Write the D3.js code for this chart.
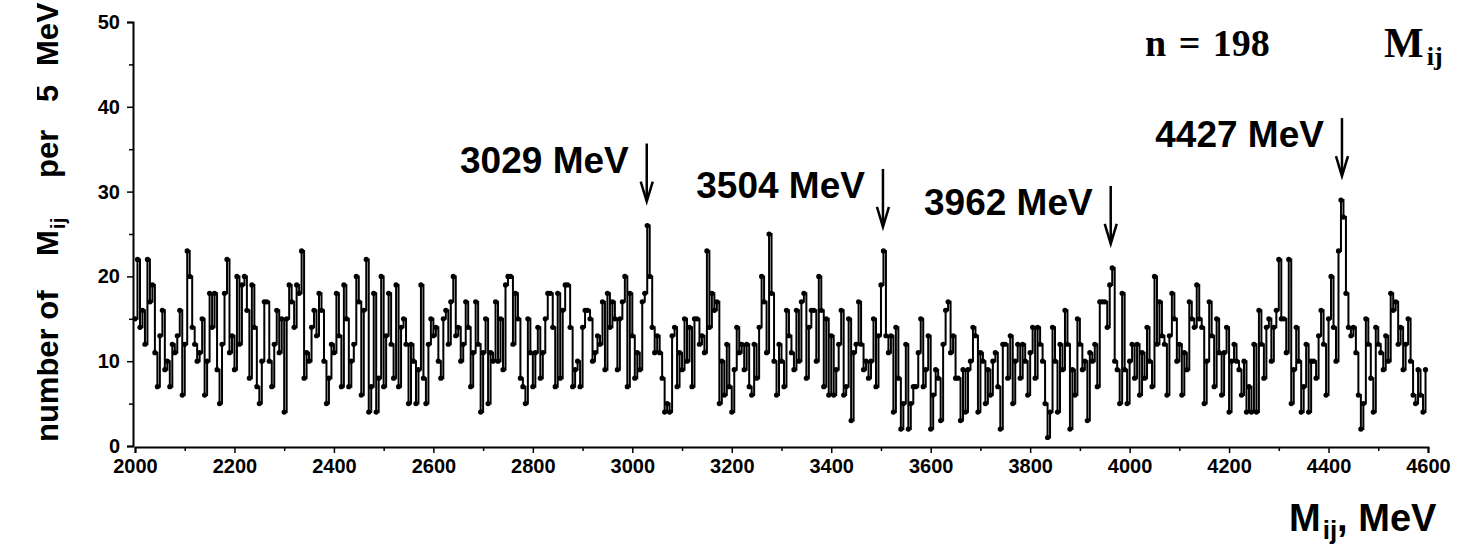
<!DOCTYPE html>
<html>
<head>
<meta charset="utf-8">
<script src="https://cdn.jsdelivr.net/npm/d3@7"></script>
<style>
  html, body { margin: 0; padding: 0; background: #fff; }
  svg { display: block; }
</style>
</head>
<body>
<svg id="chart" width="1458" height="549"></svg>
<script>
// ---------------- DATA ----------------
const massStart = 2000;   // MeV, first bin
const binWidth = 5;       // MeV per bin
const countsA = [15,22,14,16,12,22,17,19,11,7,13,16,9,10,7,12,11,13,16,6,12,23,20,14,12,10,11,15,6,10,18,14,18,9,5,12,18,22,11,13,9,20,12,19];
const countsB = [20,16,8,19,14,7,5,10,17,17,10,7,12,16,11,15,4,15,19,17,14,19,18,23,8,11,10,14,16,13,18,16,10,5,8,12,11,18,13,7,19,15,7,10,12];
const countsC = [20,17,6,16,22,4,7,18,4,8,20,7,13,18,12,8,19,7,14,15,12,5,12,10,5,9,19,8,5,12,15,13,14,10,8,15,16,12,17,20,13,14,10,12,17];
const countsD = [14,7,11,17,12,4,11,15,5,11,10,17,10,15,9,19,20,20,12,18,15,8,7,5,15,11,7,11,14,8,11,15,18,18,14,7,18,8,16,19,19,14,7,9,10];
const countsE = [7,14,16,16,15,10,11,13,12,17,9,18,14,17,15,9,15,17,20,7,18,13,8,11,9,17,18,26,20,14,11,13,11,8,4,5,4,13,14,7,11,9,15,10,14];
const countsF = [7,15,15,12,13,11,23,14,18,16,17,5,10,6,12,7,4,9,14,11,12,9,12,7,6,12,8,14,20,17,11,25,18,10,6,12,10,7,16,13,11,9,16,10,17];
const countsG = [18,8,14,16,16,10,20,16,7,15,6,13,6,9,12,16,6,7,15,3,11,12,17,12,9,10,8,10,15,7,13,19,23,13,11,13,4,14,8,2,5,12,2,5,7];
const countsH = [7,11,15,7,9,13,2,6,9,8,3,12,16,17,11,13,8,8,3,9,4,9,10,14,13,4,11,10,5,9,6,10,11,7,2,12,12,8,13,5,10,12,8,12,10];
const countsI = [6,11,14,8,14,12,10,5,1,4,14,10,4,12,9,16,12,2,9,6,15,12,9,10,3,11,10,12,7,17,17,17,14,19,21,10,9,5,18,9,5,10,12,8,12];
const countsJ = [6,11,8,14,10,7,20,12,17,13,12,6,13,18,15,10,12,6,11,9,17,15,14,19,15,14,5,10,17,13,7,15,11,6,11,14,4,10,12,10,9,6,10,4,7];
const countsK = [4,12,4,16,12,8,14,15,10,14,16,22,15,15,11,22,5,9,14,10,4,7,12,4,10,10,8,13,16,12,6,15,20,14,10,23,29,27,18,14,13,14,11,6,2];
const countsL = [5,15,12,8,4,14,12,11,9,13,10,18,16,17,12,14,9,12,15,10,6,5,9,6,4,9];
const counts = [].concat(countsA, countsB, countsC, countsD, countsE, countsF, countsG, countsH, countsI, countsJ, countsK, countsL);

const xTicks = [2000,2200,2400,2600,2800,3000,3200,3400,3600,3800,4000,4200,4400,4600];
const yTicks = [0,10,20,30,40,50];
const peakMasses = [3029, 3504, 3962, 4427];
const peakLabels = ["3029 MeV", "3504 MeV", "3962 MeV", "4427 MeV"];
const peakCounts = [26, 23, 21, 29];
const eventCountLabel = "n = 198";

// ---------------- LAYOUT ----------------
const svg = d3.select("#chart");
const x = d3.scaleLinear().domain([2000, 4600]).range([135, 1428]);
const y = d3.scaleLinear().domain([0, 50]).range([446, 22]);
const sans = "'Liberation Sans', Arial, sans-serif";
const serif = "'Liberation Serif', 'Times New Roman', serif";

const points = counts.map((c, i) => ({ m: massStart + binWidth * i, c }));

// step line
svg.append("path")
  .datum(points)
  .attr("fill", "none")
  .attr("stroke", "#000")
  .attr("stroke-width", 2)
  .attr("d", d3.line().curve(d3.curveStepAfter).x(d => x(d.m)).y(d => y(d.c)));

// dots
svg.append("g").selectAll("circle").data(points).join("circle")
  .attr("cx", d => x(d.m)).attr("cy", d => y(d.c)).attr("r", 2.6)
  .attr("fill", "#000");

// axes
const xAxis = d3.axisBottom(x).tickValues(d3.range(2000, 4601, 100)).tickSize(6)
  .tickFormat(d => xTicks.includes(d) ? d : "");
const gx = svg.append("g").attr("transform", `translate(0,${y(0) + 1})`).call(xAxis);
gx.select(".domain").attr("stroke-width", 2);
gx.selectAll(".tick line").attr("stroke-width", 1.5)
  .attr("y2", d => xTicks.includes(d) ? 6 : 4);
gx.selectAll(".tick text").attr("font-family", sans).attr("font-weight", "bold")
  .attr("font-size", 20).attr("dy", "0.85em").attr("fill", "#000");

const yAxis = d3.axisLeft(y).tickValues(d3.range(0, 51, 5)).tickSize(6)
  .tickFormat(d => yTicks.includes(d) ? d : "");
const gy = svg.append("g").attr("transform", `translate(${x(2000) - 2},0)`).call(yAxis);
gy.select(".domain").attr("stroke-width", 2);
gy.selectAll(".tick line").attr("stroke-width", 1.5)
  .attr("x2", d => yTicks.includes(d) ? -6 : -4);
gy.selectAll(".tick text").attr("font-family", sans).attr("font-weight", "bold")
  .attr("font-size", 20).attr("fill", "#000").attr("x", -13);

// peak annotations
peakMasses.forEach((m, i) => {
  const px = x(m);
  const tipY = y(peakCounts[i]) - 24;
  const topY = tipY - 58;
  svg.append("line").attr("x1", px).attr("x2", px).attr("y1", topY).attr("y2", tipY - 4)
    .attr("stroke", "#000").attr("stroke-width", 2.5);
  svg.append("path")
    .attr("d", `M${px - 6},${tipY - 20} L${px},${tipY} L${px + 6},${tipY - 20}`)
    .attr("fill", "none").attr("stroke", "#000").attr("stroke-width", 2.5);
  svg.append("text").attr("x", px - 18).attr("y", topY + 29)
    .attr("text-anchor", "end").attr("font-family", sans).attr("font-weight", "bold")
    .attr("font-size", 37).text(peakLabels[i]);
});

// n = 198
svg.append("text").attr("x", 1145).attr("y", 56)
  .attr("font-family", serif).attr("font-weight", "bold").attr("font-size", 38)
  .attr("word-spacing", 3)
  .text(eventCountLabel);

// M_ij top right
const mt = svg.append("text").attr("x", 1384).attr("y", 57)
  .attr("font-family", serif).attr("font-weight", "bold").attr("font-size", 42);
mt.append("tspan").text("M");
mt.append("tspan").attr("font-size", 26).attr("dy", 8).attr("dx", 3).text("ij");

// x-axis title
const xt = svg.append("text").attr("x", 1289).attr("y", 531)
  .attr("font-family", sans).attr("font-weight", "bold").attr("font-size", 38);
xt.append("tspan").text("M");
xt.append("tspan").attr("font-size", 26).attr("dy", 8).attr("dx", 2).text("ij");
xt.append("tspan").attr("dy", -8).text(", MeV");

// y-axis title (its left edge is cut off, as in the original figure)
svg.append("clipPath").attr("id", "ylabClip")
  .append("rect").attr("x", 37).attr("y", 0).attr("width", 60).attr("height", 549);
const ytg = svg.append("g").attr("clip-path", "url(#ylabClip)");
const yt = ytg.append("text")
  .attr("transform", "translate(58,442) rotate(-90)")
  .attr("font-family", sans).attr("font-weight", "bold").attr("font-size", 31);
yt.append("tspan").attr("x", 0).attr("y", 0).text("number of");
yt.append("tspan").attr("x", 186).attr("y", 0).text("M");
yt.append("tspan").attr("font-size", 21).attr("dy", 7).attr("dx", 1).text("ij");
yt.append("tspan").attr("x", 264).attr("y", 0).text("per");
yt.append("tspan").attr("x", 340).attr("y", 0).text("5");
yt.append("tspan").attr("x", 376).attr("y", 0).text("MeV");
</script>
</body>
</html>
